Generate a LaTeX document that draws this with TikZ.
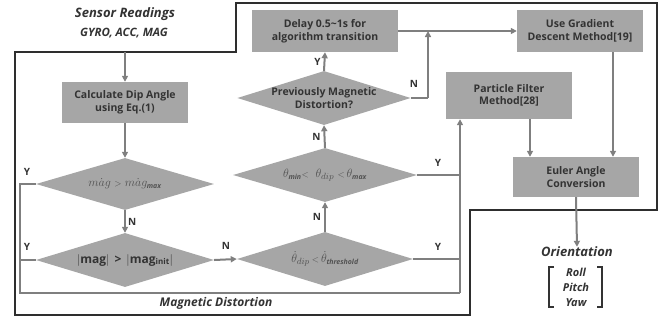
\documentclass[tikz,border=0pt]{standalone}
\usepackage{fontspec}
\setmainfont{Open Sans}
\usetikzlibrary{shapes.geometric,arrows.meta,calc}
\definecolor{boxgray}{HTML}{A6A6A6}
\definecolor{linegray}{HTML}{7F7F7F}
\definecolor{txt}{HTML}{333333}
\definecolor{frame}{HTML}{2E2E2E}
\newcommand{\subsf}[1]{\mbox{\fontsize{7}{8}\selectfont\bfseries\itshape #1}}
\begin{document}
\begin{tikzpicture}[x=1pt,y=-1pt,
  box/.style={rectangle,fill=boxgray,draw=none,text=txt,font=\fontsize{10.5}{12.5}\selectfont\bfseries,align=center,inner sep=0pt},
  dia/.style={diamond,shape aspect=3.3,fill=boxgray,draw=none,text=txt,font=\fontsize{10.5}{12.5}\selectfont\bfseries,align=center,inner sep=0pt},
  mdia/.style={dia,text=txt!85,font=\fontsize{13}{14}\selectfont},
  line/.style={draw=linegray,line width=2pt},
  arr/.style={line,-{Triangle[length=6pt,width=6pt]}},
  lbl/.style={text=txt,font=\fontsize{10}{12}\selectfont\bfseries,inner sep=0pt},
  itl/.style={text=txt,font=\fontsize{13}{15}\selectfont\bfseries\itshape,inner sep=0pt}]
\useasboundingbox (0,0) rectangle (671,322);
% outer frame
\draw[frame,line width=1.6pt] (15,52) -- (236,52) -- (236,3) -- (657,3) -- (657,210) -- (470,210) -- (470,315) -- (15,315) -- cycle;
% nodes
\node[itl] (sensor) at (125,14) {Sensor Readings};
\node[itl,font=\fontsize{11.5}{13}\selectfont\bfseries\itshape] (gyro) at (124,33) {GYRO, ACC, MAG};
\coordinate (sin) at (125,52);
\node[box,minimum width=126pt,minimum height=41pt] (calc) at (125,102.5) {Calculate Dip Angle\\using Eq.(1)};
\node[mdia,minimum width=178pt,minimum height=52pt] (d1) at (125,184) {$m\dot{a}g\ {\scriptstyle\mathbf{>}}\ m\dot{a}g_{\subsf{max}}$};
\node[dia,minimum width=178pt,minimum height=54pt,font=\fontsize{12}{13}\selectfont\bfseries] (d2) at (125,260) {$|$mag$|$ \,>\, $|$mag$_{\mbox{\fontsize{8}{9}\selectfont\bfseries init}}|$};
\node[mdia,minimum width=176pt,minimum height=54pt] (d3) at (325,259) {$\dot{\theta}_{dip}\,{\scriptstyle\mathbf{<}}\,\dot{\theta}_{\subsf{threshold}}$};
\node[mdia,minimum width=184pt,minimum height=54pt] (d4) at (325,175) {$\theta_{\subsf{min}}{\scriptstyle\mathbf{<}}\;\ \theta_{dip}\ {\scriptstyle\mathbf{<}}\,\theta_{\subsf{max}}$};
\node[dia,minimum width=168pt,minimum height=54pt] (d5) at (324,98) {Previously Magnetic\\Distortion?};
\node[box,minimum width=146pt,minimum height=42pt] (delay) at (325,31) {Delay 0.5\textasciitilde1s for\\algorithm transition};
\node[box,minimum width=126pt,minimum height=42pt] (grad) at (580,31) {Use Gradient\\Descent Method[19]};
\node[box,minimum width=126pt,minimum height=47pt] (pf) at (509,95.5) {Particle Filter\\Method[28]};
\node[box,minimum width=126pt,minimum height=40pt] (euler) at (576,177) {Euler Angle\\Conversion};
\node[itl] (orient) at (577,252) {Orientation};
\node[text=txt,font=\fontsize{11}{15}\selectfont\bfseries\itshape,align=center,inner sep=0pt] (rpy) at (576,287) {Roll\\Pitch\\Yaw};
\draw[txt,line width=1.1pt] (554,267) -- (549,267) -- (549,307) -- (554,307);
\draw[txt,line width=1.1pt] (597,267) -- (602,267) -- (602,307) -- (597,307);
\node[itl,font=\fontsize{12}{14}\selectfont\bfseries\itshape] (md) at (216,303) {Magnetic Distortion};
% helper coordinates
\coordinate (lx) at (20,293);
\coordinate (vb) at (460,293);
\coordinate (nx) at (428,98);
\coordinate (pfo) at (530,119);
\coordinate (gro) at (613,52);
% connectors
\draw[arr] (sin) -- (calc.north);
\draw[arr] (calc.south) -- (d1.north);
\draw[arr] (d1.south) -- node[lbl,right=2pt] {N} (d2.north);
\draw[line] (d1.west) -- (d1.west -| lx) -- (lx) -- (vb);
\draw[line] (d2.west) -- (d2.west -| lx);
\draw[arr] (vb) -- (vb |- pf.south);
\draw[arr] (d2.east) -- (d3.west);
\node[lbl] at (226,246) {N};
\node[lbl] at (27,172) {Y};
\node[lbl] at (27,247) {Y};
\draw[arr] (d3.north) -- node[lbl,left=3pt] {N} (d4.south);
\draw[arr] (d4.north) -- node[lbl,left=3pt] {N} (d5.south);
\draw[arr] (d5.north) -- node[lbl,left=3pt] {Y} (delay.south);
\draw[line] (d4.east) -- (d4.east -| vb);
\draw[line] (d3.east) -- (d3.east -| vb);
\node[lbl] at (438,163) {Y};
\node[lbl] at (438,247) {Y};
\draw[arr] (delay.east) -- (grad.west);
\draw[line] (d5.east) -- (nx);
\draw[arr] (nx) -- (nx |- delay.east);
\node[lbl] at (414,84) {N};
\draw[arr] (pfo) -- (pfo |- euler.north);
\draw[arr] (gro) -- (gro |- euler.north);
\draw[arr] (euler.south) -- (orient.north);
\end{tikzpicture}
\end{document}
